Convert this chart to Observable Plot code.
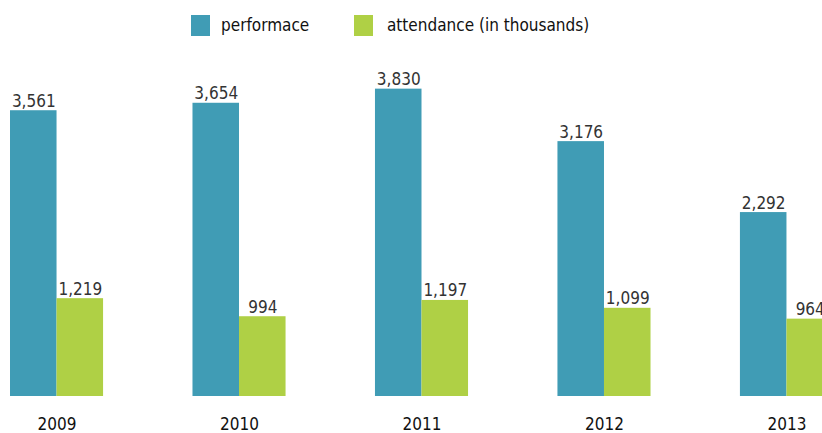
<!DOCTYPE html>
<html>
<head>
<meta charset="utf-8">
<script src="https://cdn.jsdelivr.net/npm/d3@7"></script>
<script src="https://cdn.jsdelivr.net/npm/@observablehq/plot@0.6"></script>
<style>
  html, body { margin: 0; padding: 0; background: #fff; overflow: hidden; width: 822px; height: 433px; }
  #legend { position: relative; height: 48px; font-family: "DejaVu Sans Condensed", "DejaVu Sans", sans-serif; font-stretch: condensed; font-size: 17px; color: #111; }
  .sw { position: absolute; top: 15px; width: 19px; height: 21px; }
  .lab { position: absolute; top: 13px; line-height: 24px; white-space: nowrap; }
  #chart svg { display: block; overflow: visible; font-stretch: condensed; max-width: none !important; }
</style>
</head>
<body>
<div id="legend"></div>
<div id="chart"></div>
<script>
const years = ["2009", "2010", "2011", "2012", "2013"];
const seriesNames = ["performace", "attendance (in thousands)"];
const performance = [3561, 3654, 3830, 3176, 2292];
const attendance = [1219, 994, 1197, 1099, 964];
const colors = ["#409cb5", "#afd045"];

const perfData = years.map((y, i) => ({year: y, series: seriesNames[0], value: performance[i]}));
const attData = years.map((y, i) => ({year: y, series: seriesNames[1], value: attendance[i]}));

// legend
const legend = document.getElementById("legend");
const legendPos = [[191, 221], [354, 387]];
seriesNames.forEach((s, i) => {
  const sw = document.createElement("div");
  sw.className = "sw";
  sw.style.left = legendPos[i][0] + "px";
  sw.style.background = colors[i];
  legend.appendChild(sw);
  const lab = document.createElement("div");
  lab.className = "lab";
  lab.style.left = legendPos[i][1] + "px";
  lab.textContent = s;
  legend.appendChild(lab);
});

const font = "'DejaVu Sans Condensed', 'DejaVu Sans', sans-serif";
const W = 833, ML = 10, MR = 0;
const x = {domain: years, paddingInner: 0.49, paddingOuter: 0, round: false};
// bandwidth of a year group, used to split it into two equal bars
const step = (W - ML - MR) / (years.length - x.paddingInner);
const half = step * (1 - x.paddingInner) / 2;

const labelOpts = {
  x: "year", y: "value",
  text: d => d3.format(",")(d.value),
  dy: -4, lineAnchor: "bottom", fontSize: 17, fill: "#333", fontFamily: font
};

const chart = Plot.plot({
  width: W,
  height: 385,
  marginLeft: ML,
  marginRight: MR,
  marginTop: 27,
  marginBottom: 37,
  style: {fontFamily: font, background: "transparent", maxWidth: "none"},
  x: {...x, axis: null, label: null},
  y: {domain: [0, 4000], axis: null},
  color: {domain: seriesNames, range: colors},
  marks: [
    Plot.barY(perfData, {x: "year", y: "value", fill: "series", insetRight: half}),
    Plot.barY(attData, {x: "year", y: "value", fill: "series", insetLeft: half}),
    Plot.text(perfData, {...labelOpts, dx: -half / 2}),
    Plot.text(attData, {...labelOpts, dx: half / 2}),
    Plot.axisX({anchor: "bottom", tickSize: 0, tickPadding: 21, fontSize: 17, fill: "#111", fontFamily: font, label: null})
  ]
});
document.getElementById("chart").appendChild(chart);
</script>
</body>
</html>
